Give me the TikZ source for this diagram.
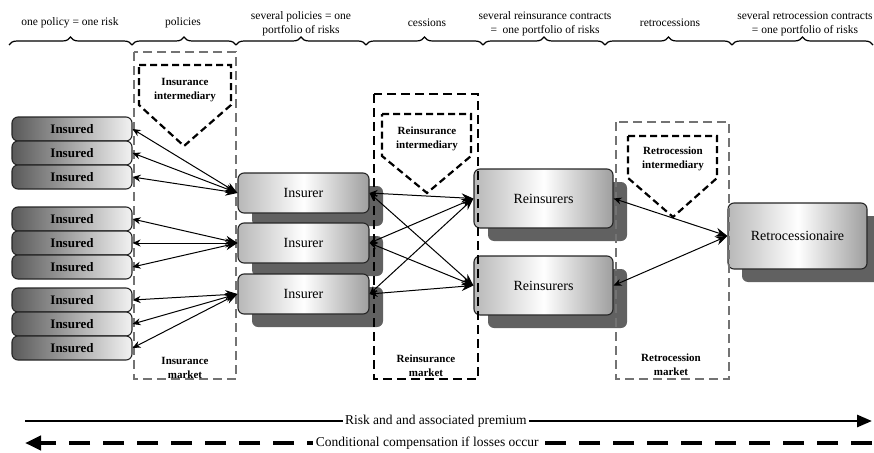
\documentclass[tikz,border=0pt]{standalone}
\usepackage{fontspec}
\setmainfont{Liberation Serif}
\usetikzlibrary{arrows.meta,shadows,decorations.pathreplacing}

\begin{document}
\begin{tikzpicture}[x=1pt, y=-1pt,
  insured/.style = {draw=black!85, line width=1.1pt, rounded corners=6pt,
    left color=black!65, right color=black!5, minimum width=120pt,
    minimum height=24pt, inner sep=0pt, font=\fontsize{13}{15}\selectfont\bfseries},
  firm/.style = {draw=black!85, line width=1.1pt, rounded corners=6pt,
    left color=black!28, right color=black!38, middle color=white, inner sep=0pt,
    font=\fontsize{14}{16}\selectfont,
    drop shadow={shadow xshift=14pt, shadow yshift=-13pt, fill=black!62, opacity=1}},
  insurer/.style = {firm, minimum width=131pt, minimum height=40pt},
  reinsurer/.style = {firm, minimum width=139pt, minimum height=59pt},
  retro/.style = {firm, minimum width=139pt, minimum height=66pt},
  head/.style = {align=center, font=\fontsize{11.5}{14}\selectfont},
  tag/.style = {align=center, font=\fontsize{11}{14}\selectfont\bfseries},
  bracket/.style = {decorate, decoration={brace, amplitude=8pt}, line width=1.2pt},
  market/.style = {draw=black!55, line width=1.1pt, dash pattern=on 9pt off 5pt},
  marketdark/.style = {draw=black, line width=1.5pt, dash pattern=on 9pt off 5pt},
  broker/.style = {draw=black, line width=2.2pt, dash pattern=on 7pt off 4pt},
  link/.style = {{Stealth[length=8pt,width=7pt]}-{Stealth[length=12pt,width=9pt]}, line width=1pt}
  ]
  \useasboundingbox (0,0) rectangle (874,452);

  \draw[bracket] (9,45) -- (132,45);
  \draw[bracket] (132,45) -- (236,45);
  \draw[bracket] (236,45) -- (366,45);
  \draw[bracket] (366,45) -- (483,45);
  \draw[bracket] (483,45) -- (605,45);
  \draw[bracket] (605,45) -- (732,45);
  \draw[bracket] (732,45) -- (873,45);
  \node[head] (h1) at (70,23) {one policy = one risk};
  \node[head] (h2) at (183,23) {policies};
  \node[head] (h3) at (301,24) {several policies = one\\portfolio of risks};
  \node[head] (h4) at (427,23) {cessions};
  \node[head] (h5) at (545,24) {several reinsurance contracts\\ =~~one portfolio of risks};
  \node[head] (h6) at (670,23) {retrocessions};
  \node[head] (h7) at (805,24) {several retrocession contracts\\ = one portfolio of risks};

  \node[insured] (i1) at (72,129) {Insured};
  \node[insured] (i2) at (72,153) {Insured};
  \node[insured] (i3) at (72,177) {Insured};
  \node[insured] (i4) at (72,219) {Insured};
  \node[insured] (i5) at (72,243) {Insured};
  \node[insured] (i6) at (72,267) {Insured};
  \node[insured] (i7) at (72,300) {Insured};
  \node[insured] (i8) at (72,324) {Insured};
  \node[insured] (i9) at (72,348) {Insured};

  \node[insurer] (ir1) at (303.5,193) {Insurer};
  \node[insurer] (ir2) at (303.5,243) {Insurer};
  \node[insurer] (ir3) at (303.5,294) {Insurer};

  \node[reinsurer] (re1) at (543.5,198.5) {Reinsurers};
  \node[reinsurer] (re2) at (543.5,285.5) {Reinsurers};

  \node[retro] (rc) at (797.5,236) {Retrocessionaire};

  \draw[market] (134,52) rectangle (236,379);
  \draw[marketdark] (374,94) rectangle (478,379);
  \draw[market] (616,122) rectangle (729,379);

  \draw[broker] (139,65) -- (231,65) -- (231,105) -- (184,146) -- (139,105) -- cycle;
  \draw[broker] (382,114) -- (471,114) -- (471,156) -- (427,193) -- (382,156) -- cycle;
  \draw[broker] (628,136) -- (717,136) -- (717,178) -- (673,217) -- (628,178) -- cycle;

  \node[tag] (bi) at (185,90) {Insurance\\intermediary};
  \node[tag] (bre) at (427,139) {Reinsurance\\intermediary};
  \node[tag] (brc) at (673,159) {Retrocession\\intermediary};
  \node[tag] (mi) at (185,368) {Insurance\\market};
  \node[tag] (mre) at (426,366) {Reinsurance\\market};
  \node[tag] (mrc) at (671,365) {Retrocession\\market};

  \draw[link] (i1.east) -- (ir1.west);
  \draw[link] (i2.east) -- (ir1.west);
  \draw[link] (i3.east) -- (ir1.west);
  \draw[link] (i4.east) -- (ir2.west);
  \draw[link] (i5.east) -- (ir2.west);
  \draw[link] (i6.east) -- (ir2.west);
  \draw[link] (i7.east) -- (ir3.west);
  \draw[link] (i8.east) -- (ir3.west);
  \draw[link] (i9.east) -- (ir3.west);

  \draw[link] (ir1.east) -- (re1.west);
  \draw[link] (ir1.east) -- (re2.west);
  \draw[link] (ir2.east) -- (re1.west);
  \draw[link] (ir2.east) -- (re2.west);
  \draw[link] (ir3.east) -- (re1.west);
  \draw[link] (ir3.east) -- (re2.west);

  \draw[link] (re1.east) -- (rc.west);
  \draw[link] (re2.east) -- (rc.west);

  \coordinate (fa) at (25,421);
  \coordinate (fb) at (872,421);
  \coordinate (ca) at (25,443);
  \coordinate (cb) at (872,443);
  \draw[line width=2.8pt, -{Triangle[length=15pt,width=12pt]}] (fa) -- (fb)
    node[pos=0.485, fill=white, inner sep=2pt, font=\fontsize{13.5}{15}\selectfont]
    (flow) {Risk and and associated premium};
  \draw[line width=4.5pt, dash pattern=on 21pt off 13pt, -{Triangle[length=16pt,width=14pt]}] (cb) -- (ca)
    node[pos=0.525, fill=white, inner sep=3pt, font=\fontsize{13.5}{15}\selectfont]
    (back) {Conditional compensation if losses occur};
\end{tikzpicture}
\end{document}
